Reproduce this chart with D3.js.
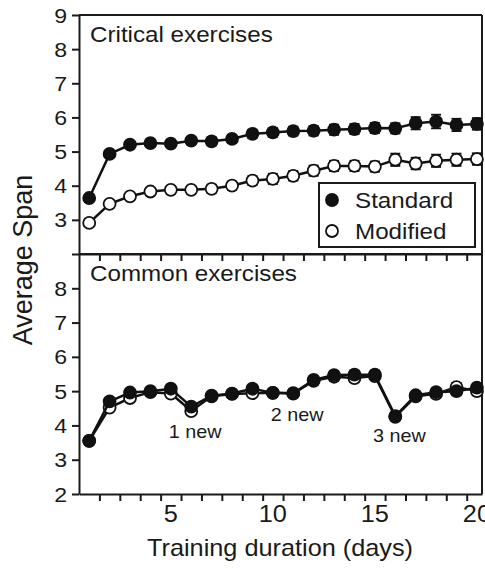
<!DOCTYPE html>
<html>
  <head>
    <title>Average Span</title>
    <script src="https://d3js.org/d3.v7.min.js"></script>
    <style>
      body { margin: 0; background: #fff; }
      text { font-family: "Liberation Sans", Arial, sans-serif; fill: #1a1a1a; }
      .axis path, .axis line { stroke: #1a1a1a; stroke-width: 2; }
    </style>
  </head>
  <body>
    <svg width="485" height="569"></svg>
    <script>
      const days = d3.range(1, 21);
      const stdCritical = [3.64, 4.93, 5.2, 5.25, 5.23, 5.32, 5.3, 5.37, 5.52, 5.56, 5.6, 5.61, 5.64, 5.66, 5.69, 5.68, 5.83, 5.88, 5.78, 5.81];
      const stdCriticalSe = [0.05, 0.08, 0.08, 0.1, 0.08, 0.1, 0.12, 0.12, 0.12, 0.13, 0.13, 0.14, 0.15, 0.15, 0.15, 0.15, 0.18, 0.2, 0.18, 0.17];
      const modCritical = [2.91, 3.47, 3.69, 3.83, 3.88, 3.88, 3.91, 4.0, 4.15, 4.2, 4.29, 4.44, 4.58, 4.58, 4.56, 4.76, 4.65, 4.73, 4.76, 4.78];
      const modCriticalSe = [0.05, 0.08, 0.08, 0.1, 0.1, 0.1, 0.12, 0.12, 0.13, 0.15, 0.14, 0.15, 0.15, 0.15, 0.15, 0.18, 0.17, 0.18, 0.18, 0.17];
      const stdCommon = [3.55, 4.7, 4.96, 5.0, 5.07, 4.55, 4.87, 4.93, 5.07, 4.95, 4.94, 5.33, 5.47, 5.48, 5.48, 4.27, 4.88, 4.97, 5.0, 5.1];
      const stdCommonSe = [0.06, 0.08, 0.08, 0.08, 0.08, 0.08, 0.08, 0.08, 0.08, 0.08, 0.08, 0.1, 0.12, 0.12, 0.12, 0.1, 0.1, 0.1, 0.12, 0.12];
      const modCommon = [3.55, 4.52, 4.8, 4.97, 4.93, 4.42, 4.85, 4.92, 4.94, 4.95, 4.93, 5.3, 5.42, 5.38, 5.44, 4.25, 4.85, 4.92, 5.12, 5.0];
      const modCommonSe = [0.06, 0.08, 0.08, 0.08, 0.08, 0.08, 0.08, 0.08, 0.08, 0.08, 0.08, 0.1, 0.12, 0.12, 0.12, 0.1, 0.1, 0.1, 0.12, 0.12];
      const xTickLabels = [5, 10, 15, 20];
      const newNotes = [
        { day: 6, value: 3.63, label: "1 new" },
        { day: 11, value: 4.13, label: "2 new" },
        { day: 16, value: 3.53, label: "3 new" }
      ];

      const svg = d3.select("svg");
      const stretch = 1.1;

      const x = d3.scaleLinear().domain([0.5, 20.25]).range([79, 482]);
      const yTop = d3.scaleLinear().domain([2, 9]).range([254, 15]);
      const yBottom = d3.scaleLinear().domain([2, 9]).range([494, 254]);

      // the reference's lettering is a bit wide, so stretch it sideways
      function stretchText(sel) {
        sel.each(function() {
          const t = d3.select(this);
          const tx = +t.attr("x") || 0;
          const ty = +t.attr("y") || 0;
          t.attr("x", 0).attr("y", 0)
            .attr("transform", `translate(${tx},${ty}) scale(${stretch},1)`);
        });
      }

      function panel(y, series, yTicks, title) {
        const g = svg.append("g");

        g.append("line")
          .attr("x1", x.range()[0]).attr("x2", x.range()[1])
          .attr("y1", y.range()[1]).attr("y2", y.range()[1])
          .attr("stroke", "#1a1a1a").attr("stroke-width", 2);
        g.append("line")
          .attr("x1", x.range()[1]).attr("x2", x.range()[1])
          .attr("y1", y.range()[1]).attr("y2", y.range()[0])
          .attr("stroke", "#1a1a1a").attr("stroke-width", 2);

        const yAxis = g.append("g")
          .attr("class", "axis")
          .attr("transform", `translate(${x.range()[0]},0)`)
          .call(d3.axisLeft(y).tickValues(yTicks).tickSize(7).tickSizeOuter(0)
            .tickFormat(d => d === 2 && title.startsWith("Critical") ? "" : d));
        yAxis.selectAll("text")
          .style("font-size", "21px")
          .attr("x", -12).attr("dy", 0).attr("dominant-baseline", "central")
          .call(stretchText);

        g.append("g")
          .attr("class", "axis")
          .attr("transform", `translate(0,${y.range()[0]})`)
          .call(d3.axisBottom(x).tickValues(d3.range(1.5, 20, 1)).tickSize(7).tickSizeOuter(0).tickFormat(""));

        g.append("text")
          .attr("x", 90).attr("y", y(9) + 27)
          .style("font-size", "22px")
          .text(title)
          .call(stretchText);

        series.forEach(s => {
          const pts = days.map((d, i) => ({ day: d, v: s.values[i], se: s.se[i] }));
          g.append("path")
            .datum(pts)
            .attr("fill", "none")
            .attr("stroke", "#111")
            .attr("stroke-width", 2.5)
            .attr("d", d3.line().x(d => x(d.day)).y(d => y(d.v)));

          const eb = g.append("g").selectAll("g").data(pts).join("g");
          eb.append("line")
            .attr("x1", d => x(d.day)).attr("x2", d => x(d.day))
            .attr("y1", d => y(d.v - d.se)).attr("y2", d => y(d.v + d.se))
            .attr("stroke", "#111").attr("stroke-width", 1.8);
          [-1, 1].forEach(sign => {
            eb.append("line")
              .attr("x1", d => x(d.day) - 5).attr("x2", d => x(d.day) + 5)
              .attr("y1", d => y(d.v + sign * d.se)).attr("y2", d => y(d.v + sign * d.se))
              .attr("stroke", "#111").attr("stroke-width", 1.8);
          });

          g.append("g").selectAll("circle").data(pts).join("circle")
            .attr("cx", d => x(d.day))
            .attr("cy", d => y(d.v))
            .attr("r", 6)
            .attr("fill", s.fill)
            .attr("stroke", "#111")
            .attr("stroke-width", 1.8);
        });
        return g;
      }

      panel(yTop, [
        { values: modCritical, se: modCriticalSe, fill: "#fff" },
        { values: stdCritical, se: stdCriticalSe, fill: "#111" }
      ], d3.range(2, 10), "Critical exercises");

      const bottom = panel(yBottom, [
        { values: modCommon, se: modCommonSe, fill: "#fff" },
        { values: stdCommon, se: stdCommonSe, fill: "#111" }
      ], d3.range(2, 9), "Common exercises");

      bottom.selectAll(".note")
        .data(newNotes)
        .join("text")
          .attr("class", "note")
          .attr("x", d => x(d.day) + 4)
          .attr("y", d => yBottom(d.value))
          .attr("text-anchor", "middle")
          .style("font-size", "18px")
          .text(d => d.label)
          .call(stretchText);

      svg.append("g").selectAll("text")
        .data(xTickLabels)
        .join("text")
          .attr("x", d => x(d))
          .attr("y", 522)
          .attr("text-anchor", "middle")
          .style("font-size", "23px")
          .text(d => d)
          .call(stretchText);

      svg.append("text")
        .attr("x", 280).attr("y", 556)
        .attr("text-anchor", "middle")
        .style("font-size", "23px")
        .text("Training duration (days)")
        .call(stretchText);

      svg.append("text")
        .attr("transform", "translate(32,260) rotate(-90)")
        .attr("text-anchor", "middle")
        .style("font-size", "27px")
        .text("Average Span");

      // legend
      const legend = svg.append("g").attr("transform", "translate(319,183)");
      legend.append("rect")
        .attr("width", 156).attr("height", 64)
        .attr("fill", "#fff").attr("stroke", "#1a1a1a").attr("stroke-width", 2);
      const items = legend.selectAll(".item")
        .data([{ label: "Standard", fill: "#111" }, { label: "Modified", fill: "#fff" }])
        .join("g")
          .attr("class", "item")
          .attr("transform", (d, i) => `translate(13,${17 + i * 31})`);
      items.append("circle")
        .attr("r", 6).attr("fill", d => d.fill)
        .attr("stroke", "#111").attr("stroke-width", 1.8);
      items.append("text")
        .attr("x", 23).attr("y", 0)
        .attr("dominant-baseline", "central")
        .style("font-size", "22px")
        .text(d => d.label)
        .call(stretchText);
    </script>
  </body>
</html>
